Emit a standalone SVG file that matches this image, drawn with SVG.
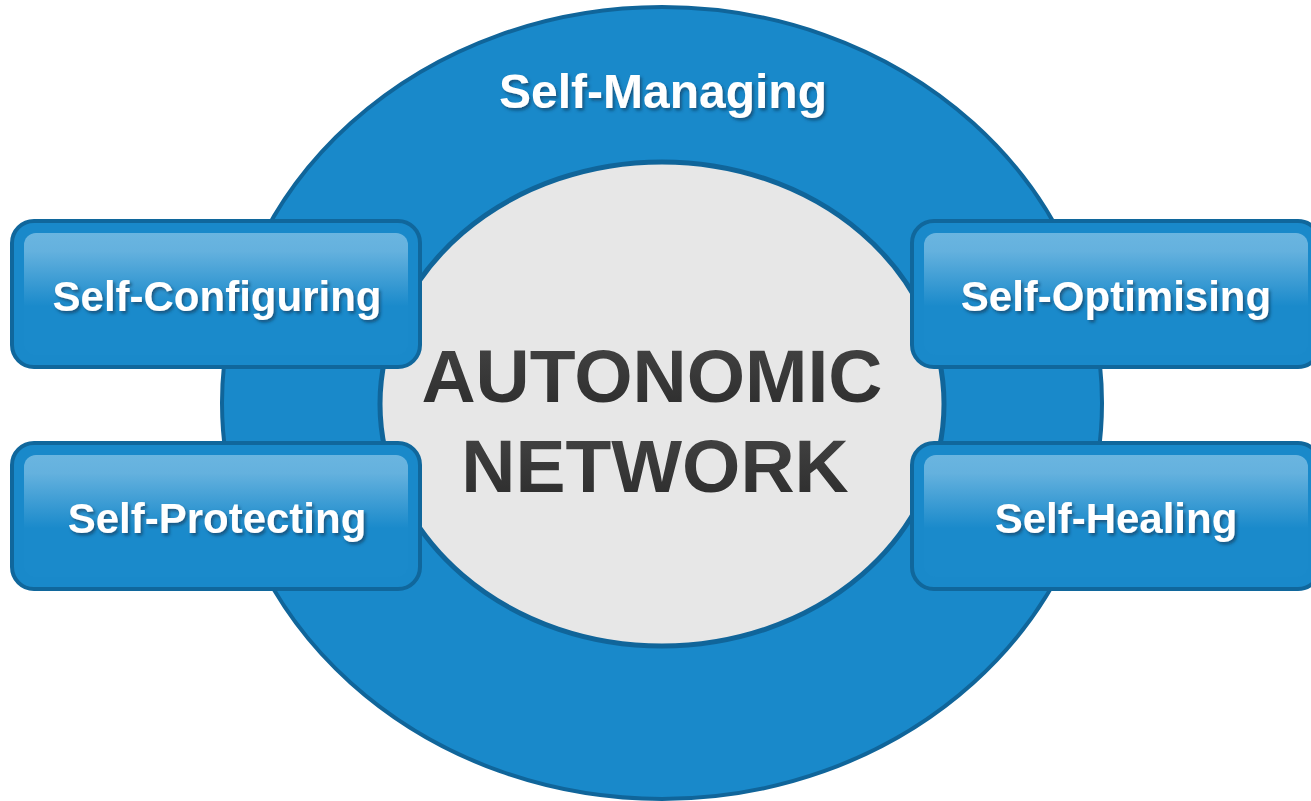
<svg xmlns="http://www.w3.org/2000/svg" width="1311" height="801" viewBox="0 0 1311 801">
  <defs>
    <linearGradient id="boxGrad" x1="0" y1="0" x2="0" y2="1">
      <stop offset="0" stop-color="#6ab5e0"/>
      <stop offset="0.15" stop-color="#64b1de"/>
      <stop offset="0.6" stop-color="#1a8acb"/>
      <stop offset="1" stop-color="#1a8acb"/>
    </linearGradient>
    <linearGradient id="textGrad" x1="0" y1="0" x2="0" y2="1">
      <stop offset="0" stop-color="#454545"/>
      <stop offset="1" stop-color="#2b2b2b"/>
    </linearGradient>
    <filter id="shadow" x="-10%" y="-30%" width="120%" height="160%">
      <feDropShadow dx="2" dy="2.5" stdDeviation="1.5" flood-color="#0a3050" flood-opacity="0.6"/>
    </filter>
  </defs>
  <style>
    .ring { fill: #1989ca; stroke: #10659a; stroke-width: 4; }
    .core { fill: #e7e7e7; stroke: #10659a; stroke-width: 5; }
    .box { fill: #1989ca; stroke: #10679c; stroke-width: 4; }
    .boxin { fill: url(#boxGrad); }
    .lbl { font-family: "Liberation Sans", Arial, sans-serif; font-weight: bold; fill: #ffffff; text-anchor: middle; filter: url(#shadow); }
    .big { font-family: "Liberation Sans", Arial, sans-serif; font-weight: bold; fill: url(#textGrad); text-anchor: middle; font-size: 75px; }
  </style>
  <rect width="1311" height="801" fill="#ffffff"/>

  <g id="self-managing">
    <ellipse class="ring" cx="662" cy="403" rx="440" ry="396"/>
    <text class="lbl" x="663" y="108" font-size="48">Self-Managing</text>
  </g>

  <g id="autonomic-network">
    <ellipse class="core" cx="662" cy="404" rx="282" ry="242"/>
    <text class="big" x="652" y="402">AUTONOMIC</text>
    <text class="big" x="655" y="492">NETWORK</text>
  </g>

  <g id="connectors"></g>

  <g id="self-configuring">
    <rect class="box" x="12" y="221" width="408" height="146" rx="22"/>
    <rect class="boxin" x="24" y="233" width="384" height="122" rx="12"/>
    <text class="lbl" x="217" y="311" font-size="42">Self-Configuring</text>
  </g>

  <g id="self-protecting">
    <rect class="box" x="12" y="443" width="408" height="146" rx="22"/>
    <rect class="boxin" x="24" y="455" width="384" height="122" rx="12"/>
    <text class="lbl" x="217" y="533" font-size="42">Self-Protecting</text>
  </g>

  <g id="self-optimising">
    <rect class="box" x="912" y="221" width="408" height="146" rx="22"/>
    <rect class="boxin" x="924" y="233" width="384" height="122" rx="12"/>
    <text class="lbl" x="1116" y="311" font-size="42">Self-Optimising</text>
  </g>

  <g id="self-healing">
    <rect class="box" x="912" y="443" width="408" height="146" rx="22"/>
    <rect class="boxin" x="924" y="455" width="384" height="122" rx="12"/>
    <text class="lbl" x="1116" y="533" font-size="42">Self-Healing</text>
  </g>
</svg>
